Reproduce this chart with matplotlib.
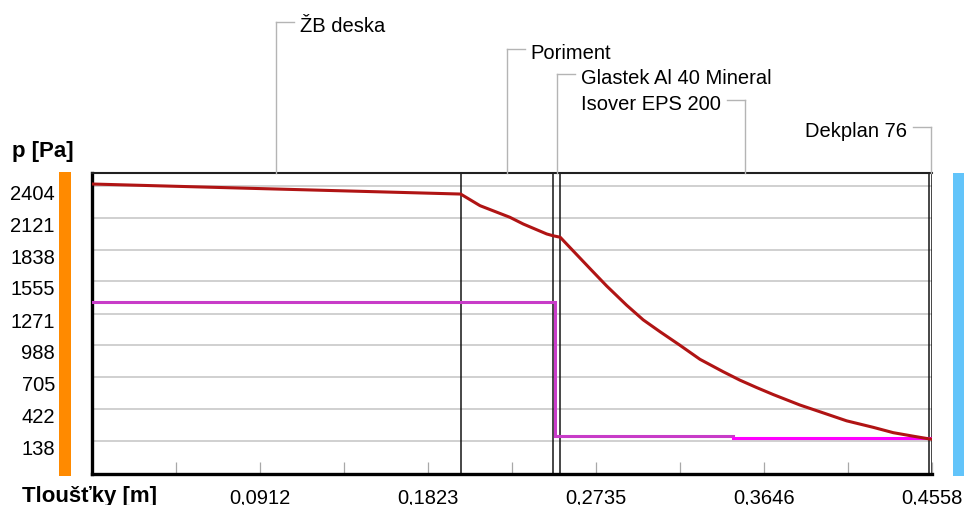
import matplotlib
matplotlib.use("Agg")
import matplotlib.pyplot as plt
from matplotlib.patches import Rectangle
from matplotlib.lines import Line2D
from matplotlib.transforms import ScaledTranslation

plt.rcParams['font.family'] = ['Liberation Sans', 'DejaVu Sans']

# ---- data -------------------------------------------------------------
layer_names = ["ŽB deska", "Poriment", "Glastek Al 40 Mineral",
               "Isover EPS 200", "Dekplan 76"]
layer_thickness = [0.200, 0.050, 0.004, 0.200, 0.0018]   # m

x_ticks = [0.0456, 0.0912, 0.1367, 0.1823, 0.2279,
           0.2735, 0.3191, 0.3646, 0.4102, 0.4558]
x_tick_labels = ["", "0,0912", "", "0,1823", "",
                 "0,2735", "", "0,3646", "", "0,4558"]
y_ticks = [138, 422, 705, 988, 1271, 1555, 1838, 2121, 2404]

# partial pressure of water vapour through the construction
pd_x = [0.0, 0.200, 0.2105, 0.2267, 0.2340, 0.2467, 0.250, 0.254,
        0.2701, 0.2792, 0.2900, 0.2990, 0.3081, 0.3189, 0.3298, 0.3424,
        0.3515, 0.3605, 0.3695, 0.3840, 0.3967, 0.4093, 0.4238, 0.4346,
        0.4450, 0.4540, 0.4558]
pd_p = [2419, 2330, 2227, 2124, 2064, 1976, 1961, 1947,
        1670, 1515, 1345, 1215, 1110, 990, 865, 755,
        680, 615, 553, 460, 390, 320, 262, 215,
        185, 160, 157]

# saturated vapour pressure
ps_x_a = [0.0, 0.2512, 0.2512, 0.3475]
ps_p_a = [1376, 1376, 188, 188]
ps_x_b = [0.3475, 0.4558]
ps_p_b = [164, 164]

# ---- figure layout -----------------------------------------------------
W, H = 966, 506
fig = plt.figure(figsize=(W / 100, H / 100), dpi=100)
ax_l, ax_r, ax_t, ax_b = 91.9, 932.3, 173.5, 474.5
ax = fig.add_axes([ax_l / W, 1 - ax_b / H, (ax_r - ax_l) / W, (ax_b - ax_t) / H])

ax.set_xlim(0, sum(layer_thickness))
ax.set_ylim(-147, 2521)

# frame
for side in ("left", "bottom"):
    ax.spines[side].set_linewidth(2.4)
    ax.spines[side].set_color("black")
ax.spines["top"].set_linewidth(1.5)
ax.spines["top"].set_color("#202020")
ax.spines["right"].set_visible(False)

# horizontal grid with y labels
ax.set_yticks(y_ticks, [str(v) for v in y_ticks])
ax.set_axisbelow(True)
ax.yaxis.grid(True, color="#c4c4c4", lw=1.1)
ax.tick_params(axis="y", length=0, pad=26.6, labelsize=14.5)
shift = ScaledTranslation(0, -5.5 / 100, fig.dpi_scale_trans)
for lab in ax.get_yticklabels():
    lab.set_transform(lab.get_transform() + shift)

# thickness axis
ax.set_xticks(x_ticks, x_tick_labels)
ax.tick_params(axis="x", direction="in", length=9, width=0.9,
               color="#a8a8a8", pad=10.0, labelsize=14.5)

# layer boundaries
bounds = [0.0]
for t in layer_thickness:
    bounds.append(bounds[-1] + t)
for b in bounds[1:]:
    ax.axvline(b, color="#151515", lw=1.1, zorder=2)

# curves
ax.plot(ps_x_a, ps_p_a, color="#c83cc8", lw=2.2, zorder=3,
        solid_joinstyle="miter")
ax.plot(ps_x_b, ps_p_b, color="#ff00ff", lw=2.2, zorder=3)
ax.plot(pd_x, pd_p, color="#b01414", lw=2.2, zorder=4)

# side bars
fig.add_artist(Rectangle((59 / W, 1 - 477 / H), 12 / W, 304 / H,
                         transform=fig.transFigure, color="#ff8a00", lw=0))
fig.add_artist(Rectangle((953 / W, 1 - 477 / H), 11 / W, 303 / H,
                         transform=fig.transFigure, color="#62c4fa", lw=0))

# axis titles
fig.text(12 / W, 1 - 157 / H, "p [Pa]", fontsize=16, fontweight="bold",
         ha="left", va="baseline")
fig.text(22 / W, 1 - 502 / H, "Tloušťky [m]", fontsize=16, fontweight="bold",
         ha="left", va="baseline")

# layer name leaders
leader_y = [23.3, 50, 75, 101, 128.3]
leader_side = [1, 1, 1, -1, -1]
seg_len, gap = 18, 6
for i, name in enumerate(layer_names):
    xc = 0.5 * (bounds[i] + bounds[i + 1])
    px = ax.transData.transform((xc, 0))[0]
    y = leader_y[i]
    s = leader_side[i]
    fig.add_artist(Line2D([px / W, px / W], [1 - ax_t / H, 1 - y / H],
                          transform=fig.transFigure, color="#b4b4b4", lw=1.0))
    fig.add_artist(Line2D([px / W, (px + s * seg_len) / W], [1 - y / H, 1 - y / H],
                          transform=fig.transFigure, color="#b4b4b4", lw=1.0))
    fig.text((px + s * (seg_len + gap)) / W, 1 - (y + 9) / H, name,
             fontsize=14.5, ha="left" if s > 0 else "right", va="baseline")

fig.savefig("out.png", dpi=100)
